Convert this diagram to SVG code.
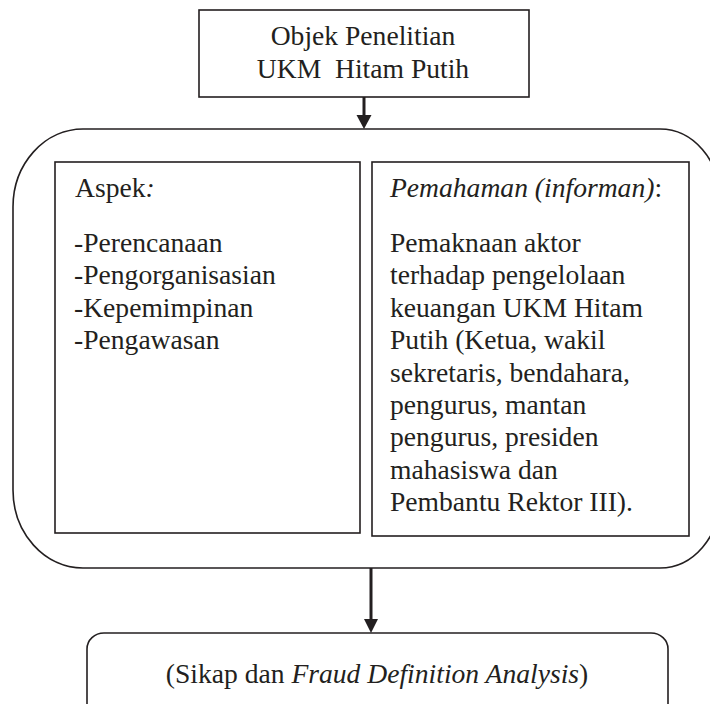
<svg xmlns="http://www.w3.org/2000/svg" width="710" height="704" viewBox="0 0 710 704">
  <style>
    .box { fill: #ffffff; stroke: #231f20; stroke-width: 1.6; }
    .t { font-size: 27.6px; fill: #231f20; }
    .c { text-anchor: middle; }
    .i { font-style: italic; }
    .conn { stroke: #231f20; stroke-width: 3; fill: none; }
    .head { fill: #231f20; }
  </style>
  <rect width="710" height="704" fill="#ffffff"/>

  <g id="connectors">
    <line class="conn" x1="364" y1="97" x2="364" y2="117"/>
    <polygon class="head" points="356.5,115 371.5,115 364,129"/>
    <line class="conn" x1="371" y1="568" x2="371" y2="621"/>
    <polygon class="head" points="364,619 378,619 371,633"/>
  </g>

  <g font-family="'Liberation Serif', 'DejaVu Serif', serif">
  <g id="objek">
    <rect class="box" x="199" y="10" width="330" height="87"/>
    <text class="t c" x="363" y="45">Objek Penelitian</text>
    <text class="t c" x="363" y="78" style="white-space:pre">UKM  Hitam Putih</text>
  </g>

  <g id="container">
    <path class="box" d="M 83 129 H 660 A 60 70 0 0 1 720 199 V 498 A 60 70 0 0 1 660 568 H 83 A 70 78 0 0 1 13 490 V 207 A 70 78 0 0 1 83 129 Z"/>
  </g>

  <g id="aspek">
    <rect class="box" x="55" y="162" width="305" height="371"/>
    <text class="t" x="75" y="197">Aspek<tspan class="i">:</tspan></text>
    <text class="t" x="74" y="252">-Perencanaan</text>
    <text class="t" x="74" y="284.4">-Pengorganisasian</text>
    <text class="t" x="74" y="316.8">-Kepemimpinan</text>
    <text class="t" x="74" y="349.2">-Pengawasan</text>
  </g>

  <g id="pemahaman">
    <rect class="box" x="372" y="162" width="317" height="374"/>
    <text class="t" x="390" y="197"><tspan class="i">Pemahaman (informan)</tspan>:</text>
    <text class="t" x="390" y="252">Pemaknaan aktor</text>
    <text class="t" x="390" y="284.4">terhadap pengelolaan</text>
    <text class="t" x="390" y="316.8">keuangan UKM Hitam</text>
    <text class="t" x="390" y="349.2">Putih (Ketua, wakil</text>
    <text class="t" x="390" y="381.6">sekretaris, bendahara,</text>
    <text class="t" x="390" y="414">pengurus, mantan</text>
    <text class="t" x="390" y="446.4">pengurus, presiden</text>
    <text class="t" x="390" y="478.8">mahasiswa dan</text>
    <text class="t" x="390" y="511.2">Pembantu Rektor III).</text>
  </g>

  <g id="sikap">
    <rect class="box" x="87" y="633" width="581" height="130" rx="17" ry="16"/>
    <text class="t c" x="377" y="683">(Sikap dan <tspan class="i">Fraud Definition Analysis</tspan>)</text>
  </g>
  </g>
</svg>
